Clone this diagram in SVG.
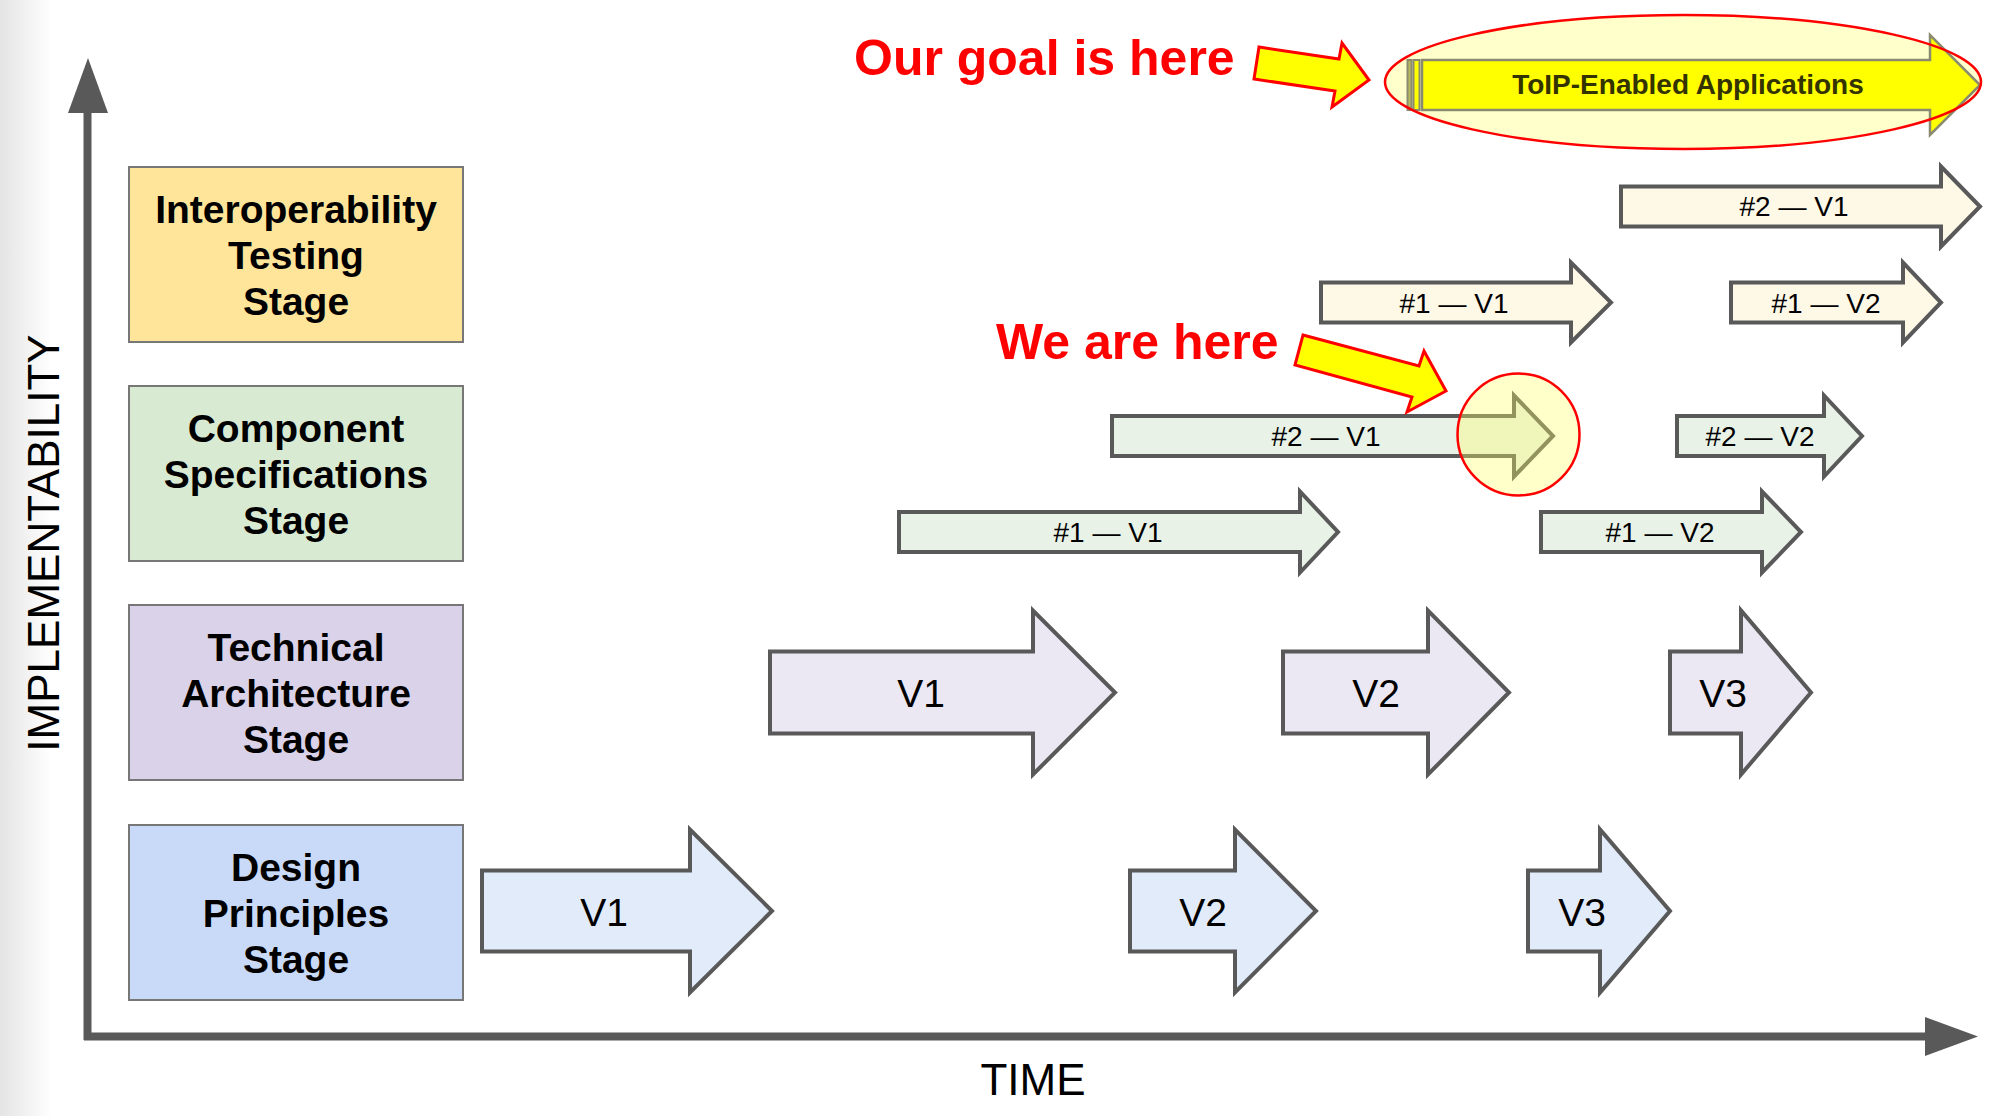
<svg xmlns="http://www.w3.org/2000/svg" width="1999" height="1116" viewBox="0 0 1999 1116">
<defs>
<linearGradient id="edge" x1="0" y1="0" x2="1" y2="0">
<stop offset="0" stop-color="#e4e4e4"/>
<stop offset="1" stop-color="#ffffff"/>
</linearGradient>
<style>
.axis{stroke:#595959;stroke-width:8;fill:none}
.axhead{fill:#595959}
.axlabel{font-family:"Liberation Sans",Arial,sans-serif;font-size:44px;fill:#000}
.stage{stroke:#777;stroke-width:2}
.stxt{font-family:"Liberation Sans",Arial,sans-serif;font-weight:bold;font-size:39px;fill:#000;text-anchor:middle}
.blk{stroke:#595959;stroke-width:4;stroke-linejoin:miter}
.dp{fill:#e1ebfa}
.ta{fill:#ebe8f4}
.cs{fill:#e9f2e6}
.it{fill:#fef8e7}
.big{font-family:"Liberation Sans",Arial,sans-serif;font-size:39px;fill:#000;text-anchor:middle}
.sm{font-family:"Liberation Sans",Arial,sans-serif;font-size:28px;fill:#000;text-anchor:middle}
.ptr{fill:#ffff00;stroke:#ff0000;stroke-width:3;stroke-linejoin:miter}
.red{font-family:"Liberation Sans",Arial,sans-serif;font-weight:bold;font-size:50px;fill:#ff0000}
.hl{fill:#ffff66;fill-opacity:0.35;stroke:#ff0000;stroke-width:2.5}
</style>
</defs>
<rect x="0" y="0" width="1999" height="1116" fill="#ffffff"/>
<rect x="0" y="0" width="52" height="1116" fill="url(#edge)"/>

<g id="axes">
<line class="axis" x1="87.5" y1="1040" x2="87.5" y2="110"/>
<polygon class="axhead" points="68,113 88,58 108,113"/>
<line class="axis" x1="84" y1="1036.5" x2="1928" y2="1036.5"/>
<polygon class="axhead" points="1925,1017 1978,1036.5 1925,1056"/>
<text class="axlabel" transform="translate(59,543) rotate(-90)" text-anchor="middle">IMPLEMENTABILITY</text>
<text class="axlabel" x="1033" y="1095" text-anchor="middle">TIME</text>
</g>

<g id="stage-interop">
<rect class="stage" x="129" y="167" width="334" height="175" fill="#fee59a"/>
<text class="stxt" x="296" y="223">Interoperability</text>
<text class="stxt" x="296" y="269">Testing</text>
<text class="stxt" x="296" y="315">Stage</text>
</g>
<g id="stage-component">
<rect class="stage" x="129" y="386" width="334" height="175" fill="#d9ead3"/>
<text class="stxt" x="296" y="442">Component</text>
<text class="stxt" x="296" y="488">Specifications</text>
<text class="stxt" x="296" y="534">Stage</text>
</g>
<g id="stage-technical">
<rect class="stage" x="129" y="605" width="334" height="175" fill="#d9d2e9"/>
<text class="stxt" x="296" y="661">Technical</text>
<text class="stxt" x="296" y="707">Architecture</text>
<text class="stxt" x="296" y="753">Stage</text>
</g>
<g id="stage-design">
<rect class="stage" x="129" y="825" width="334" height="175" fill="#c9daf8"/>
<text class="stxt" x="296" y="881">Design</text>
<text class="stxt" x="296" y="927">Principles</text>
<text class="stxt" x="296" y="973">Stage</text>
</g>

<g id="design-v1">
<polygon class="blk dp" points="482,870.5 690,870.5 690,829.5 772,911 690,992.5 690,951.5 482,951.5"/>
<text class="big" x="604" y="926">V1</text>
</g>
<g id="design-v2">
<polygon class="blk dp" points="1130,870.5 1235,870.5 1235,829.5 1316,911 1235,992.5 1235,951.5 1130,951.5"/>
<text class="big" x="1203" y="926">V2</text>
</g>
<g id="design-v3">
<polygon class="blk dp" points="1528,870.5 1600,870.5 1600,829.5 1670,911 1600,992.5 1600,951.5 1528,951.5"/>
<text class="big" x="1582" y="926">V3</text>
</g>

<g id="tech-v1">
<polygon class="blk ta" points="770,651.5 1033,651.5 1033,610.5 1115,692.5 1033,774.5 1033,733.5 770,733.5"/>
<text class="big" x="921" y="707">V1</text>
</g>
<g id="tech-v2">
<polygon class="blk ta" points="1283,651.5 1428,651.5 1428,610.5 1509,692.5 1428,774.5 1428,733.5 1283,733.5"/>
<text class="big" x="1376" y="707">V2</text>
</g>
<g id="tech-v3">
<polygon class="blk ta" points="1670,651.5 1741,651.5 1741,610.5 1811,692.5 1741,774.5 1741,733.5 1670,733.5"/>
<text class="big" x="1723" y="707">V3</text>
</g>

<g id="comp-1-v1">
<polygon class="blk cs" points="899,512 1300,512 1300,491.5 1338,532 1300,572.5 1300,552 899,552"/>
<text class="sm" x="1108" y="542">#1 — V1</text>
</g>
<g id="comp-1-v2">
<polygon class="blk cs" points="1541,512 1762,512 1762,491.5 1801,532 1762,572.5 1762,552 1541,552"/>
<text class="sm" x="1660" y="542">#1 — V2</text>
</g>
<g id="comp-2-v1">
<polygon class="blk cs" points="1112,416 1514,416 1514,395.5 1553,436 1514,476.5 1514,456 1112,456"/>
<text class="sm" x="1326" y="446">#2 — V1</text>
</g>
<g id="comp-2-v2">
<polygon class="blk cs" points="1677,416 1824,416 1824,395.5 1862,436 1824,476.5 1824,456 1677,456"/>
<text class="sm" x="1760" y="446">#2 — V2</text>
</g>

<g id="interop-1-v1">
<polygon class="blk it" points="1321,282.5 1571,282.5 1571,262.5 1611,302.5 1571,342.5 1571,322.5 1321,322.5"/>
<text class="sm" x="1454" y="312.5">#1 — V1</text>
</g>
<g id="interop-1-v2">
<polygon class="blk it" points="1731,282.5 1903,282.5 1903,262.5 1941,302.5 1903,342.5 1903,322.5 1731,322.5"/>
<text class="sm" x="1826" y="312.5">#1 — V2</text>
</g>
<g id="interop-2-v1">
<polygon class="blk it" points="1621,186.5 1941,186.5 1941,166.5 1980,206.5 1941,246.5 1941,226.5 1621,226.5"/>
<text class="sm" x="1794" y="216">#2 — V1</text>
</g>

<g id="toip-apps">
<ellipse cx="1683" cy="82" rx="298" ry="67" fill="#ffffcc"/>
<rect x="1407.5" y="60" width="4" height="50" fill="#b8b860" stroke="#8a8a70" stroke-width="2"/>
<rect x="1413.5" y="60" width="6" height="50" fill="#ffff00" stroke="#8a8a70" stroke-width="2"/>
<polygon points="1422,60 1930,60 1930,35 1980,85 1930,135 1930,110 1422,110" fill="#ffff00" stroke="#8a8a70" stroke-width="2.5"/>
<text x="1688" y="94" font-family="'Liberation Sans',Arial,sans-serif" font-weight="bold" font-size="28" fill="#333300" text-anchor="middle">ToIP-Enabled Applications</text>
<ellipse cx="1683" cy="82" rx="298" ry="67" fill="none" stroke="#ff0000" stroke-width="2.5"/>
</g>

<g id="we-are-here-mark">
<circle class="hl" cx="1518.5" cy="434.5" r="61"/>
</g>

<g id="connectors">
<polygon class="ptr" points="1259,47 1339,59 1342,43 1369,80 1332,107 1335,91 1254,79"/>
<polygon class="ptr" points="1303,335 1419,366 1424,351 1446,391 1407,412 1412,397 1295,365"/>
</g>

<g id="callouts">
<text class="red" x="854" y="75">Our goal is here</text>
<text class="red" x="996" y="359">We are here</text>
</g>
</svg>
